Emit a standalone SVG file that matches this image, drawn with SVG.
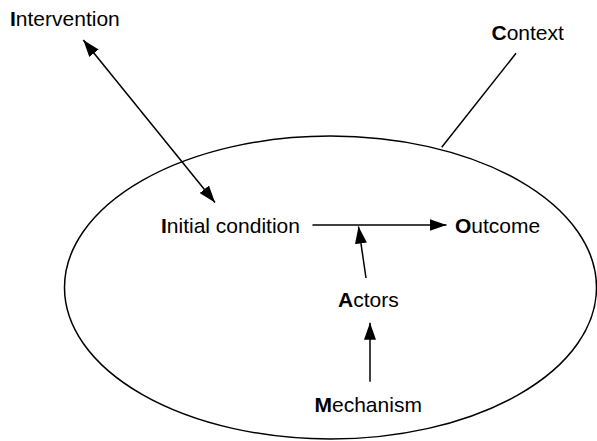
<svg xmlns="http://www.w3.org/2000/svg" width="597" height="441" viewBox="0 0 597 441">
<style>
text{font-family:"Liberation Sans",Arial,Helvetica,sans-serif;font-size:21px;fill:#000}
.b{font-weight:bold}
.ln{stroke:#000;stroke-width:1.5;fill:none}
</style>
<defs>
<marker id="ah" viewBox="0 0 17 12" refX="17" refY="6" markerWidth="17" markerHeight="12" markerUnits="userSpaceOnUse" orient="auto-start-reverse">
<path d="M0,0 L17,6 L0,12 Z" fill="#000"/>
</marker>
</defs>
<rect width="597" height="441" fill="#fff"/>
<g id="context-ellipse">
<ellipse class="ln" cx="330.5" cy="287.5" rx="266" ry="151.5"/>
</g>
<g id="connectors">
<line class="ln" x1="83.3" y1="40" x2="215" y2="202.5" marker-start="url(#ah)" marker-end="url(#ah)"/>
<line class="ln" x1="312.5" y1="225" x2="446.5" y2="225" marker-end="url(#ah)"/>
<line class="ln" x1="366" y1="278" x2="358.5" y2="226.5" marker-end="url(#ah)"/>
<line class="ln" x1="370" y1="381.7" x2="370" y2="322.7" marker-end="url(#ah)"/>
<line class="ln" x1="516" y1="53.3" x2="441.7" y2="147.3"/>
</g>
<g id="intervention"><text x="10" y="25.7"><tspan class="b">I</tspan>ntervention</text></g>
<g id="context"><text x="491.5" y="40"><tspan class="b">C</tspan>ontext</text></g>
<g id="initial-condition"><text x="161" y="232.7"><tspan class="b">I</tspan>nitial condition</text></g>
<g id="outcome"><text x="455" y="232.7"><tspan class="b">O</tspan>utcome</text></g>
<g id="actors"><text x="338" y="306.7"><tspan class="b">A</tspan>ctors</text></g>
<g id="mechanism"><text x="314.5" y="411.7"><tspan class="b">M</tspan>echanism</text></g>
</svg>
